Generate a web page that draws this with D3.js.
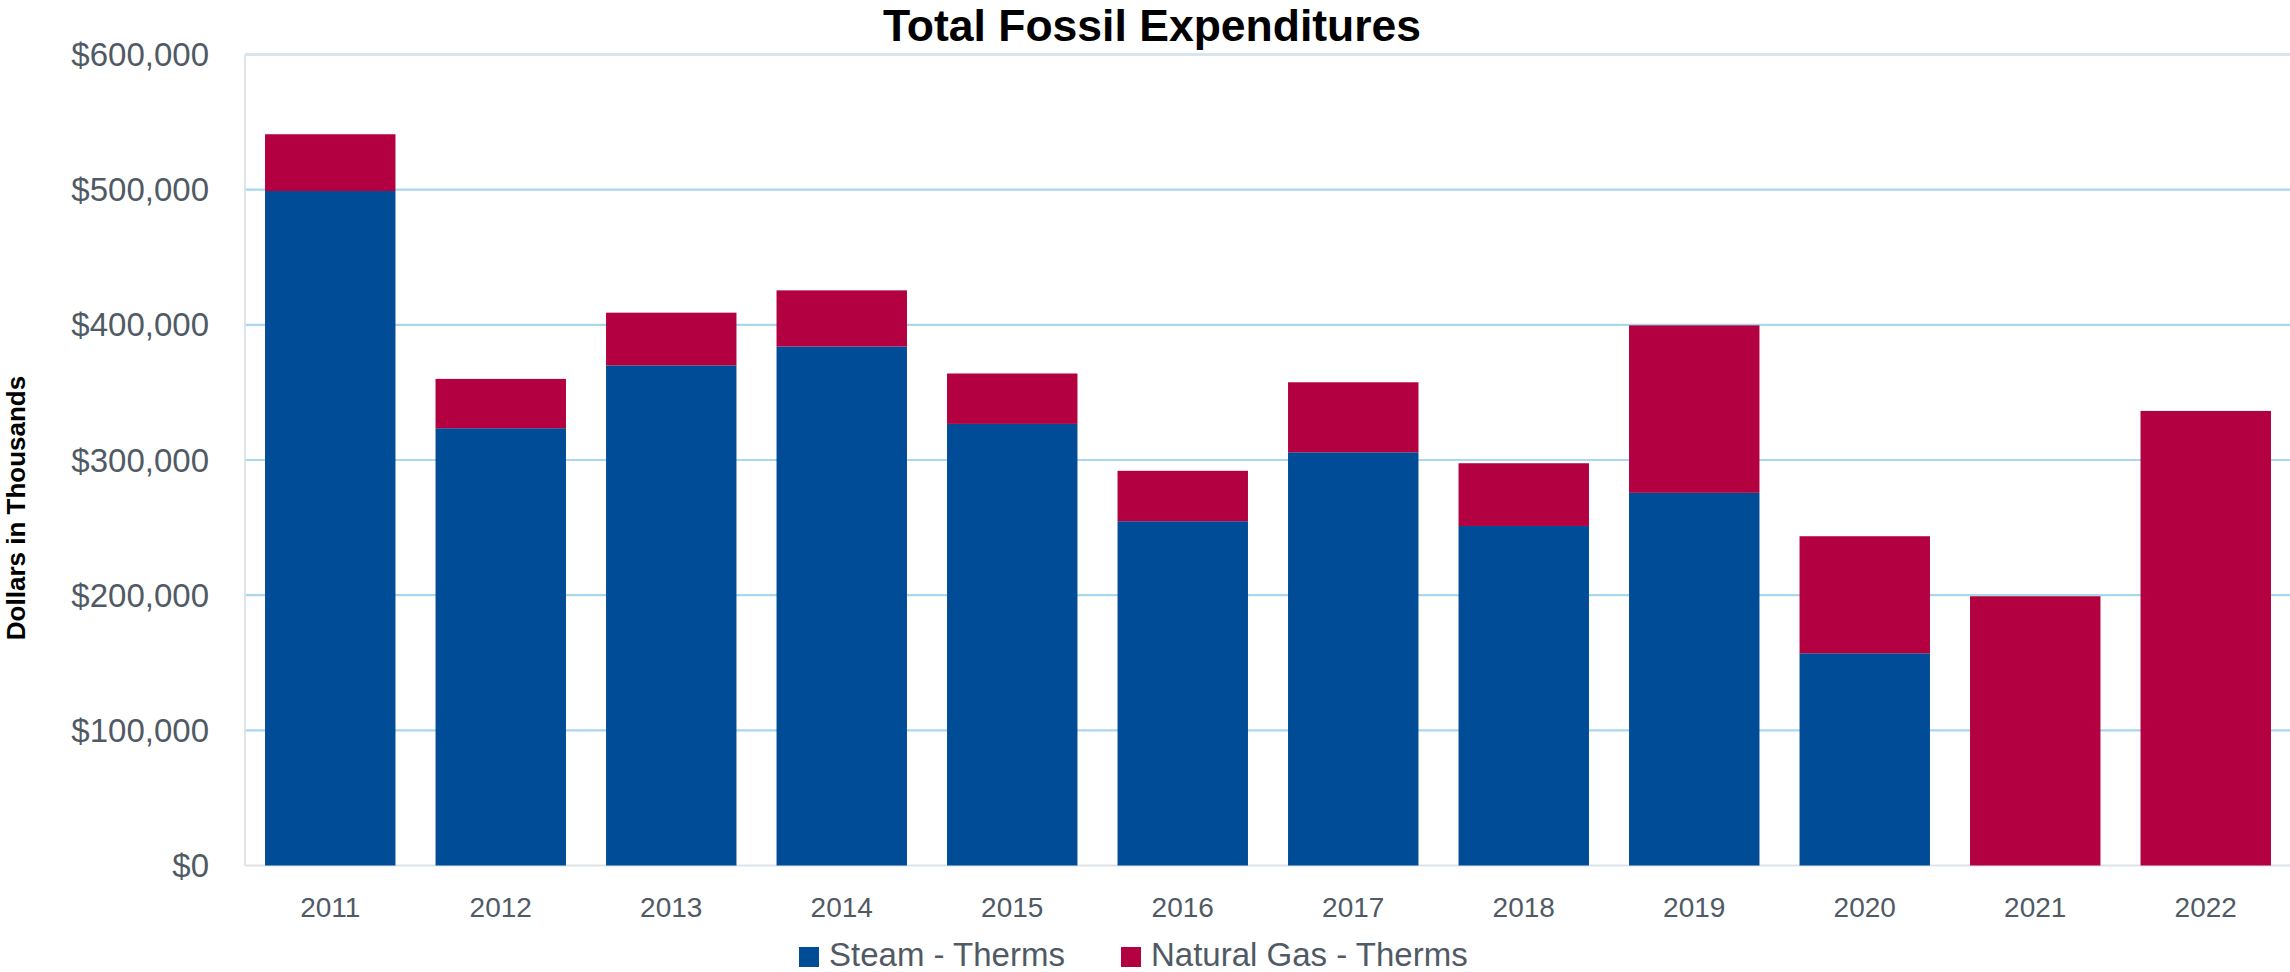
<!DOCTYPE html>
<html>
<head>
<meta charset="utf-8">
<script src="https://cdn.jsdelivr.net/npm/d3@7"></script>
<style>
  html, body { margin: 0; padding: 0; background: #fff; }
  svg { display: block; }
</style>
</head>
<body>
<svg id="chart" width="2290" height="972"></svg>
<script>
const years = ["2011","2012","2013","2014","2015","2016","2017","2018","2019","2020","2021","2022"];
const steamTherms = [499000, 323500, 370000, 384000, 326700, 254700, 305700, 251200, 275700, 157000, 0, 0];
const naturalGasTherms = [42000, 36500, 39000, 41500, 37300, 37300, 51800, 46400, 123900, 86600, 199200, 336300];
const seriesNames = ["Steam - Therms", "Natural Gas - Therms"];
const yTicks = [0, 100000, 200000, 300000, 400000, 500000, 600000];
const titleText = "Total Fossil Expenditures";
const yAxisTitle = "Dollars in Thousands";

(function () {
const colors = ["#004C97", "#B20040"];
const textColor = "#505A65";

const svg = d3.select("#chart");
const plotLeft = 245, plotRight = 2291, plotTop = 54.5, plotBottom = 865.5;

const x = d3.scaleBand().domain(years).range([plotLeft, plotRight]).paddingInner(0.235).paddingOuter(0.1175);
const y = d3.scaleLinear().domain([0, 600000]).range([plotBottom, plotTop]);

// gridlines
svg.append("g").selectAll("line")
  .data(yTicks.filter(t => t > 0 && t < 600000))
  .join("line")
  .attr("x1", plotLeft).attr("x2", 2290)
  .attr("y1", d => y(d)).attr("y2", d => y(d))
  .attr("stroke", "#A9D7EE").attr("stroke-width", 2.2);

// frame: top, left, bottom
svg.append("line").attr("x1", plotLeft).attr("x2", 2290).attr("y1", y(600000)).attr("y2", y(600000))
  .attr("stroke", "#DAE4EC").attr("stroke-width", 3);
svg.append("line").attr("x1", plotLeft).attr("x2", plotLeft).attr("y1", y(600000)).attr("y2", y(0))
  .attr("stroke", "#DDE3E8").attr("stroke-width", 2);
svg.append("line").attr("x1", plotLeft).attr("x2", 2290).attr("y1", y(0)).attr("y2", y(0))
  .attr("stroke", "#DDE3E8").attr("stroke-width", 2);

// stacked data
const rows = years.map((yr, i) => ({ year: yr, steam: steamTherms[i], gas: naturalGasTherms[i] }));
const stacked = d3.stack().keys(["steam", "gas"])(rows);

svg.append("g").selectAll("g")
  .data(stacked)
  .join("g")
  .attr("fill", (d, i) => colors[i])
  .selectAll("rect")
  .data(d => d.filter(s => s[1] - s[0] > 0))
  .join("rect")
  .attr("x", d => x(d.data.year))
  .attr("width", x.bandwidth())
  .attr("y", d => y(d[1]))
  .attr("height", d => y(d[0]) - y(d[1]));

// y tick labels
const fmt = d3.format(",");
svg.append("g").selectAll("text")
  .data(yTicks)
  .join("text")
  .attr("x", 209)
  .attr("y", d => y(d))
  .attr("dy", "0.35em")
  .attr("text-anchor", "end")
  .attr("font-family", "'Liberation Sans', Arial, sans-serif")
  .attr("font-size", 33)
  .attr("fill", textColor)
  .text(d => "$" + fmt(d));

// x tick labels
svg.append("g").selectAll("text")
  .data(years)
  .join("text")
  .attr("x", d => x(d) + x.bandwidth() / 2)
  .attr("y", 917)
  .attr("text-anchor", "middle")
  .attr("font-family", "'Liberation Sans', Arial, sans-serif")
  .attr("font-size", 28)
  .attr("fill", textColor)
  .text(d => d);

// title
svg.append("text")
  .attr("x", 1152)
  .attr("y", 41)
  .attr("text-anchor", "middle")
  .attr("font-family", "'Liberation Sans', Arial, sans-serif")
  .attr("font-weight", "bold")
  .attr("font-size", 44.5)
  .attr("fill", "#000")
  .text(titleText);

// y axis title
svg.append("text")
  .attr("transform", "translate(25,508) rotate(-90)")
  .attr("text-anchor", "middle")
  .attr("font-family", "'Liberation Sans', Arial, sans-serif")
  .attr("font-weight", "bold")
  .attr("font-size", 26)
  .attr("fill", "#000")
  .text(yAxisTitle);

// legend
const legendItems = [
  { name: seriesNames[0], color: colors[0], sx: 799, tx: 829 },
  { name: seriesNames[1], color: colors[1], sx: 1121, tx: 1151 }
];
const lg = svg.append("g");
lg.selectAll("rect").data(legendItems).join("rect")
  .attr("x", d => d.sx).attr("y", 947).attr("width", 20).attr("height", 20)
  .attr("fill", d => d.color);
lg.selectAll("text").data(legendItems).join("text")
  .attr("x", d => d.tx).attr("y", 966)
  .attr("font-family", "'Liberation Sans', Arial, sans-serif")
  .attr("font-size", 33)
  .attr("fill", textColor)
  .text(d => d.name);
})();
</script>
</body>
</html>
